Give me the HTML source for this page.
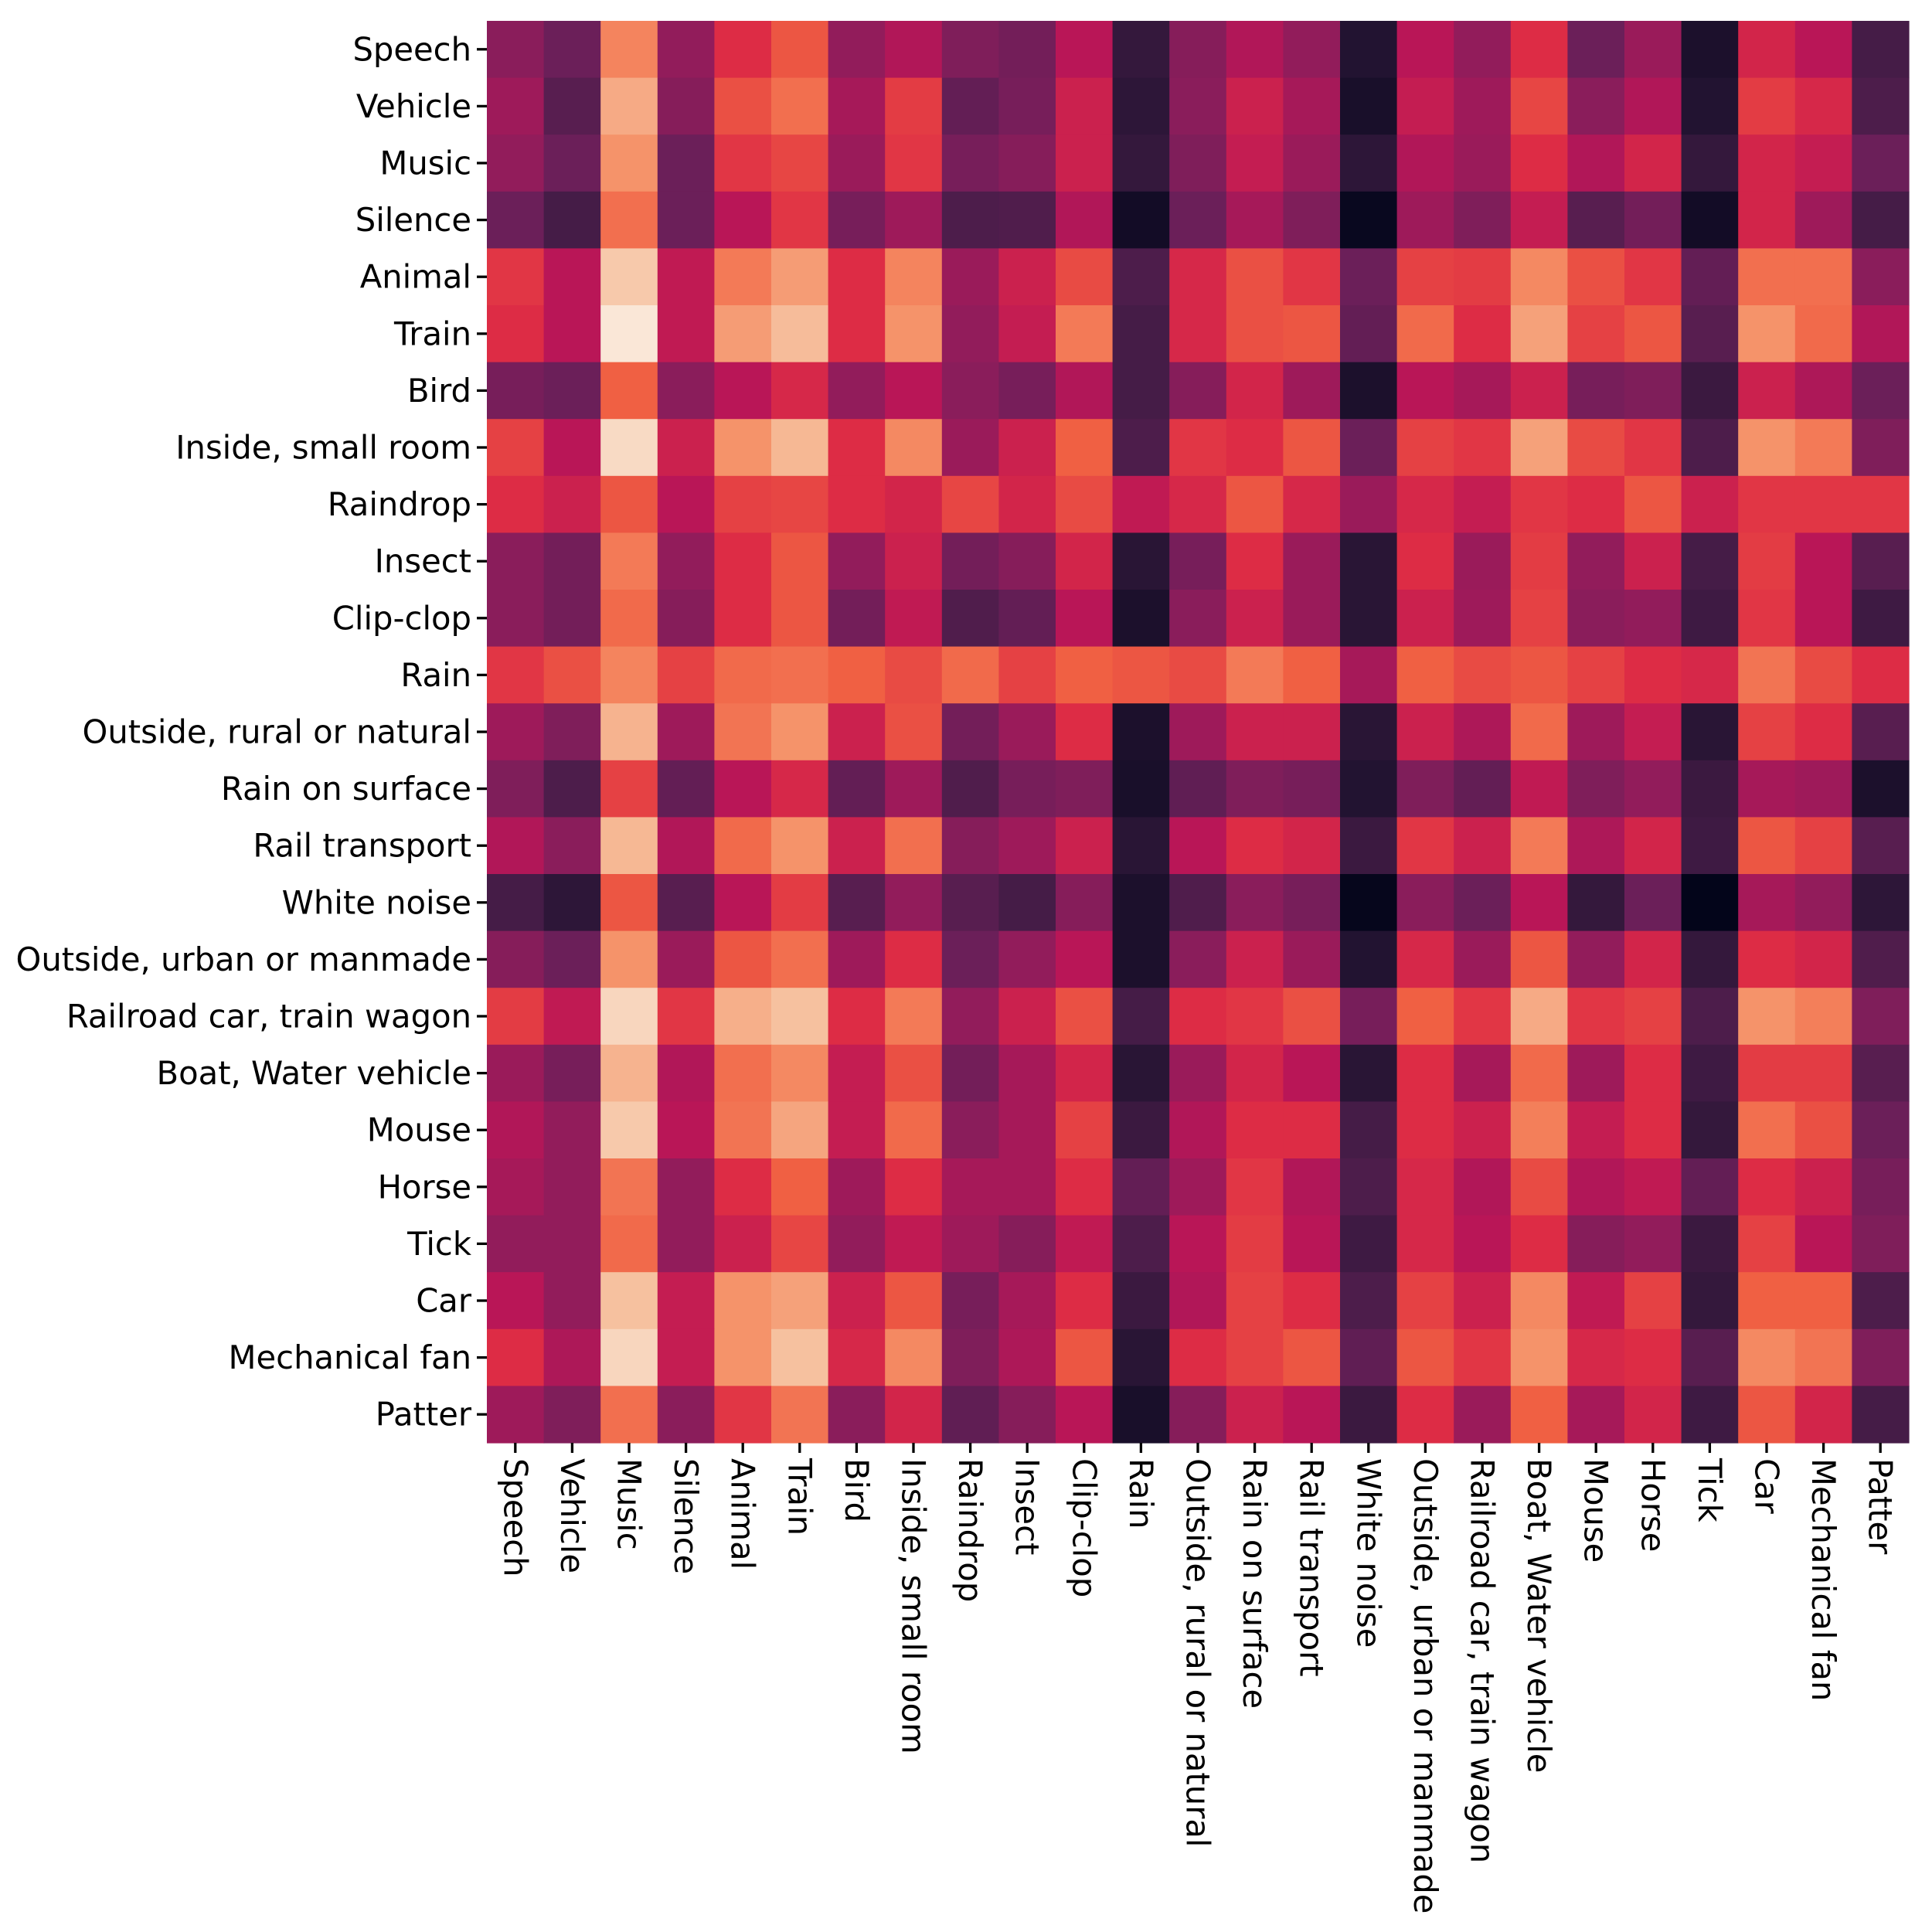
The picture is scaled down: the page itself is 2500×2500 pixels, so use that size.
<!DOCTYPE html>
<html><head><meta charset="utf-8"><style>
html,body{margin:0;padding:0;background:#fff;width:2500px;height:2500px;overflow:hidden}
text{font-family:"DejaVu Sans","Liberation Sans",sans-serif;font-size:41.7px;fill:#000}
</style></head><body>
<svg id="chart" width="2500" height="2500" xmlns="http://www.w3.org/2000/svg">
<g id="cells"></g>
<g id="yax"></g>
<g id="xax"></g>
</svg>
<script>
const labels=["Speech","Vehicle","Music","Silence","Animal","Train","Bird","Inside, small room","Raindrop","Insect","Clip-clop","Rain","Outside, rural or natural","Rain on surface","Rail transport","White noise","Outside, urban or manmade","Railroad car, train wagon","Boat, Water vehicle","Mouse","Horse","Tick","Car","Mechanical fan","Patter"];
const values=[
[0.38,0.3,0.77,0.4,0.6,0.68,0.4,0.48,0.35,0.32,0.5,0.15,0.37,0.48,0.4,0.1,0.5,0.4,0.6,0.3,0.42,0.08,0.57,0.5,0.2],
[0.43,0.25,0.85,0.37,0.67,0.73,0.45,0.63,0.28,0.33,0.55,0.13,0.38,0.55,0.45,0.07,0.53,0.43,0.65,0.38,0.48,0.1,0.63,0.58,0.22],
[0.4,0.3,0.8,0.3,0.62,0.65,0.42,0.62,0.33,0.37,0.55,0.15,0.35,0.53,0.42,0.13,0.48,0.42,0.6,0.48,0.57,0.15,0.57,0.53,0.3],
[0.3,0.2,0.73,0.3,0.5,0.62,0.33,0.43,0.22,0.23,0.48,0.05,0.3,0.45,0.35,0.02,0.43,0.35,0.53,0.25,0.32,0.05,0.57,0.43,0.2],
[0.62,0.5,0.92,0.52,0.75,0.82,0.6,0.77,0.42,0.55,0.66,0.22,0.58,0.67,0.62,0.3,0.64,0.63,0.78,0.67,0.62,0.28,0.73,0.73,0.38],
[0.6,0.5,0.99,0.52,0.82,0.89,0.6,0.8,0.4,0.53,0.75,0.2,0.58,0.67,0.68,0.28,0.72,0.6,0.83,0.64,0.68,0.25,0.8,0.72,0.48],
[0.33,0.3,0.7,0.38,0.5,0.58,0.4,0.5,0.38,0.33,0.48,0.2,0.37,0.57,0.43,0.08,0.5,0.45,0.55,0.33,0.35,0.17,0.55,0.47,0.3],
[0.64,0.5,0.96,0.55,0.8,0.88,0.6,0.78,0.42,0.55,0.7,0.22,0.62,0.6,0.68,0.3,0.64,0.62,0.83,0.66,0.62,0.22,0.8,0.75,0.35],
[0.6,0.55,0.68,0.5,0.64,0.65,0.6,0.57,0.65,0.57,0.66,0.52,0.58,0.68,0.58,0.42,0.58,0.53,0.62,0.6,0.68,0.55,0.62,0.62,0.62],
[0.38,0.32,0.75,0.4,0.6,0.68,0.4,0.55,0.32,0.37,0.57,0.12,0.33,0.6,0.42,0.12,0.6,0.42,0.63,0.4,0.55,0.2,0.63,0.5,0.25],
[0.38,0.32,0.72,0.37,0.6,0.68,0.32,0.52,0.23,0.28,0.5,0.08,0.38,0.55,0.42,0.12,0.55,0.43,0.64,0.38,0.4,0.18,0.62,0.5,0.18],
[0.62,0.67,0.77,0.64,0.72,0.73,0.7,0.66,0.72,0.64,0.7,0.68,0.66,0.75,0.7,0.45,0.7,0.66,0.68,0.64,0.6,0.58,0.74,0.66,0.6],
[0.43,0.35,0.87,0.43,0.74,0.8,0.55,0.67,0.32,0.42,0.6,0.08,0.43,0.55,0.55,0.12,0.55,0.47,0.72,0.43,0.53,0.12,0.64,0.6,0.25],
[0.35,0.22,0.64,0.28,0.5,0.58,0.28,0.43,0.23,0.33,0.35,0.07,0.27,0.35,0.33,0.1,0.35,0.28,0.52,0.35,0.4,0.17,0.45,0.43,0.08],
[0.48,0.38,0.88,0.48,0.72,0.8,0.55,0.73,0.37,0.43,0.55,0.12,0.5,0.6,0.57,0.17,0.62,0.55,0.75,0.47,0.57,0.18,0.68,0.64,0.25],
[0.2,0.13,0.68,0.25,0.5,0.63,0.25,0.4,0.25,0.2,0.37,0.08,0.23,0.38,0.33,0.01,0.38,0.3,0.5,0.15,0.3,0.0,0.45,0.4,0.13],
[0.37,0.3,0.8,0.42,0.68,0.73,0.43,0.6,0.3,0.4,0.5,0.08,0.38,0.55,0.42,0.1,0.58,0.42,0.68,0.4,0.57,0.15,0.6,0.57,0.23],
[0.63,0.52,0.95,0.62,0.86,0.9,0.6,0.75,0.4,0.55,0.67,0.2,0.6,0.62,0.67,0.33,0.7,0.62,0.85,0.62,0.64,0.22,0.8,0.76,0.35],
[0.42,0.33,0.87,0.48,0.73,0.78,0.53,0.67,0.32,0.45,0.57,0.12,0.42,0.57,0.5,0.12,0.6,0.45,0.72,0.43,0.6,0.18,0.63,0.63,0.25],
[0.48,0.4,0.92,0.5,0.74,0.84,0.53,0.72,0.38,0.45,0.64,0.17,0.48,0.6,0.6,0.2,0.6,0.55,0.76,0.53,0.6,0.15,0.73,0.67,0.3],
[0.45,0.4,0.74,0.4,0.6,0.7,0.43,0.6,0.45,0.45,0.6,0.28,0.43,0.62,0.48,0.22,0.58,0.48,0.66,0.48,0.52,0.28,0.6,0.55,0.33],
[0.4,0.4,0.72,0.4,0.55,0.65,0.4,0.52,0.43,0.37,0.52,0.22,0.5,0.63,0.5,0.18,0.58,0.5,0.6,0.37,0.4,0.17,0.64,0.5,0.35],
[0.5,0.4,0.9,0.53,0.8,0.83,0.55,0.68,0.33,0.45,0.6,0.17,0.48,0.64,0.6,0.22,0.64,0.55,0.78,0.52,0.64,0.15,0.7,0.7,0.22],
[0.6,0.47,0.95,0.53,0.8,0.9,0.58,0.78,0.35,0.47,0.68,0.12,0.6,0.64,0.68,0.27,0.68,0.62,0.8,0.58,0.6,0.25,0.78,0.74,0.35],
[0.43,0.35,0.73,0.38,0.62,0.74,0.38,0.57,0.27,0.37,0.5,0.07,0.37,0.55,0.5,0.17,0.6,0.42,0.7,0.45,0.57,0.18,0.68,0.57,0.2]
];
const X0=630,Y0=27,W=1840,H=1840,N=labels.length;
const cw=W/N,ch=H/N;
const xScale=i=>X0+i*cw, yScale=j=>Y0+j*ch;
const stops=[[3,5,26],[34,19,49],[69,28,71],[107,31,89],[146,28,91],[185,22,87],[221,44,69],[240,96,67],[245,147,106],[246,193,159],[250,235,221]];
function rocket(v){v=Math.max(0,Math.min(1,v))*10;const i=Math.min(9,Math.floor(v)),t=v-i;const a=stops[i],b=stops[i+1];
return 'rgb('+a.map((c,k)=>Math.round(c+(b[k]-c)*t)).join(',')+')';}
const NS='http://www.w3.org/2000/svg';
const cells=document.getElementById('cells'),yax=document.getElementById('yax'),xax=document.getElementById('xax');
for(let r=0;r<N;r++)for(let c=0;c<N;c++){
 const el=document.createElementNS(NS,'rect');
 el.setAttribute('x',xScale(c));el.setAttribute('y',yScale(r));
 el.setAttribute('width',cw+0.6);el.setAttribute('height',ch+0.6);
 el.setAttribute('fill',rocket(values[r][c]));
 
 
 cells.appendChild(el);
}
for(let i=0;i<N;i++){
 const yc=yScale(i)+ch/2, xc=xScale(i)+cw/2;
 const t1=document.createElementNS(NS,'line');
 t1.setAttribute('x1',X0-13);t1.setAttribute('x2',X0);t1.setAttribute('y1',yc);t1.setAttribute('y2',yc);
 t1.setAttribute('stroke','#000');t1.setAttribute('stroke-width','3.3');
 
 
 yax.appendChild(t1);
 const l1=document.createElementNS(NS,'text');
 l1.setAttribute('x',X0-20);l1.setAttribute('y',yc);l1.setAttribute('text-anchor','end');l1.setAttribute('dominant-baseline','central');
 l1.textContent=labels[i];
 
 
 yax.appendChild(l1);
 const t2=document.createElementNS(NS,'line');
 t2.setAttribute('x1',xc);t2.setAttribute('x2',xc);t2.setAttribute('y1',Y0+H);t2.setAttribute('y2',Y0+H+13);
 t2.setAttribute('stroke','#000');t2.setAttribute('stroke-width','3.3');
 
 
 xax.appendChild(t2);
 const l2=document.createElementNS(NS,'text');
 const ty=Y0+H+20;
 l2.setAttribute('x',xc);l2.setAttribute('y',ty);l2.setAttribute('dominant-baseline','central');
 l2.setAttribute('transform','rotate(90 '+xc+' '+ty+')');
 l2.textContent=labels[i];
 
 
 xax.appendChild(l2);
}
</script>
</body></html>
